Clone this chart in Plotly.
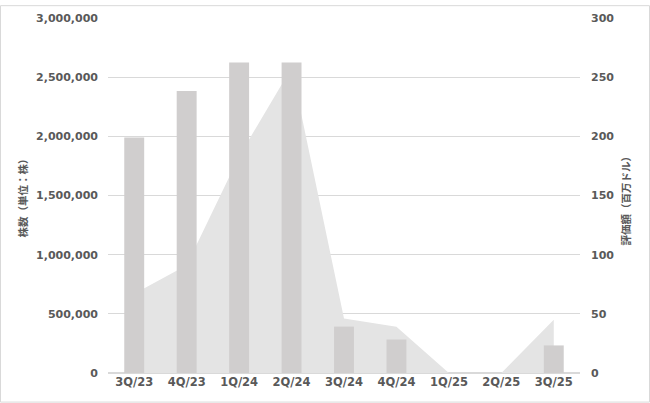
import plotly.graph_objects as go

categories = ["3Q/23", "4Q/23", "1Q/24", "2Q/24", "3Q/24", "4Q/24", "1Q/25", "2Q/25", "3Q/25"]
shares = [1990000, 2383000, 2625000, 2625000, 392000, 283000, 0, 0, 233000]
valuation_musd = [67, 91, 183, 258, 46, 39, 0, 0, 45]
left_ticks = [0, 500000, 1000000, 1500000, 2000000, 2500000, 3000000]
right_ticks = [0, 50, 100, 150, 200, 250, 300]

W, H = 650, 403
L, R, T, B = 108, 70, 13, 30
pw, ph = W - L - R, H - T - B

fig = go.Figure()
fig.add_trace(go.Scatter(
    x=categories, y=valuation_musd, mode="lines", line=dict(width=0, color="#E4E4E4"),
    fill="tozeroy", fillcolor="#E4E4E4", yaxis="y", showlegend=False, hoverinfo="skip"))
fig.add_trace(go.Bar(
    x=categories, y=shares, marker=dict(color="#D0CECE", line=dict(width=0)),
    width=0.38, yaxis="y2", showlegend=False))

tickfont = dict(family="DejaVu Sans", size=11, color="#595959", weight="bold")
xtickfont = dict(family="DejaVu Sans", size=11.5, color="#595959", weight="bold")
fig.update_layout(
    width=W, height=H, margin=dict(l=L, r=R, t=T, b=B),
    paper_bgcolor="white", plot_bgcolor="white",
    xaxis=dict(type="category", showgrid=False, showline=False, zeroline=False,
               tickfont=xtickfont, ticks="", range=[-0.5, 8.5]),
    yaxis=dict(side="right", range=[0, 300], tickvals=right_ticks, ticktext=[str(v) for v in right_ticks],
               showgrid=True, gridcolor="#D9D9D9", gridwidth=1, zeroline=True, zerolinecolor="#D9D9D9",
               tickfont=tickfont, ticklabelstandoff=10, showline=False),
    yaxis2=dict(side="left", overlaying="y", range=[0, 3000000], tickvals=left_ticks,
                ticktext=[f"{v:,}" for v in left_ticks], showgrid=False, zeroline=False,
                tickfont=tickfont, ticklabelstandoff=9, showline=False),
    bargap=0.62,
)

fig.add_annotation(text="株数（単位：株）", xref="paper", yref="paper",
                   x=(22 - L) / pw, y=(H - B - 193) / ph, textangle=-90, showarrow=False,
                   xanchor="center", yanchor="middle",
                   font=dict(family="Noto Sans CJK JP", size=10.5, color="#595959", weight="bold"))
fig.add_annotation(text="評価額（百万ドル）", xref="paper", yref="paper",
                   x=(625 - L) / pw, y=(H - B - 196) / ph, textangle=-90, showarrow=False,
                   xanchor="center", yanchor="middle",
                   font=dict(family="Noto Sans CJK JP", size=10.5, color="#595959", weight="bold"))
fig.add_shape(type="rect", xref="paper", yref="paper",
              x0=(0.5 - L) / pw, x1=(W - 0.5 - L) / pw,
              y0=-(B - 0.5) / ph, y1=(H - B - 0.5) / ph,
              line=dict(color="#D9D9D9", width=1), layer="below")

fig.write_html("out.html", config={"displayModeBar": False},
               post_script="document.body.style.margin='0';document.body.style.overflow='hidden';")
